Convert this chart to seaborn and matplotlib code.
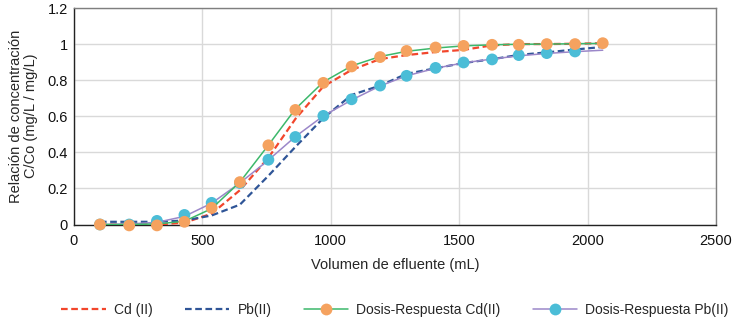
import matplotlib
matplotlib.use("Agg")
import matplotlib.pyplot as plt
from matplotlib.lines import Line2D
import pandas as pd
import seaborn as sns

# ── Data ──────────────────────────────────────────────────────────────────────
volumen = [101, 215, 323, 430, 536, 646, 757, 862, 971, 1081,
           1192, 1295, 1408, 1517, 1628, 1732, 1841, 1951, 2059]

# experimental curves (dashed)
cd_exp = [0.0, 0.0, 0.0, 0.01, 0.06, 0.19, 0.37, 0.585, 0.765, 0.857,
          0.917, 0.939, 0.956, 0.968, 0.993, 1.0, 1.0, 1.002, 1.005]
pb_exp = [0.015, 0.015, 0.015, 0.022, 0.05, 0.11, 0.27, 0.43, 0.59, 0.718,
          0.77, 0.835, 0.866, 0.895, 0.916, 0.94, 0.954, 0.97, 0.984]

# dose-response model lines
cd_fit = [0.0, 0.0, 0.003, 0.018, 0.088, 0.235, 0.44, 0.64, 0.79, 0.879,
          0.931, 0.96, 0.978, 0.99, 0.996, 0.999, 1.0, 1.002, 1.004]
pb_fit = [0.0, 0.003, 0.012, 0.045, 0.118, 0.23, 0.357, 0.487, 0.602, 0.69,
          0.768, 0.824, 0.866, 0.896, 0.917, 0.935, 0.948, 0.958, 0.966]

# dose-response markers
cd_pts = [0.0, -0.005, -0.005, 0.015, 0.092, 0.235, 0.439, 0.635, 0.785, 0.876,
          0.928, 0.962, 0.981, 0.99, 0.996, 0.996, 1.0, 1.0, 1.005]
pb_pts = [0.0, 0.0, 0.02, 0.053, 0.12, 0.23, 0.359, 0.485, 0.602, 0.694,
          0.770, 0.824, 0.868, 0.898, 0.915, 0.939, 0.95, 0.959]

df = pd.DataFrame({"v": volumen, "cd_exp": cd_exp, "pb_exp": pb_exp,
                   "cd_fit": cd_fit, "pb_fit": pb_fit, "cd_pts": cd_pts})
df_pb = pd.DataFrame({"v": volumen[:len(pb_pts)], "pb_pts": pb_pts})

RED, NAVY = "#f2462c", "#2f5597"
GREEN, ORANGE = "#3cb86b", "#f5a25f"
PURPLE, BLUE = "#9b87c9", "#4bbdd7"

sns.set_style("white")
plt.rcParams["font.family"] = ["Liberation Sans", "DejaVu Sans"]

fig = plt.figure(figsize=(7.36, 3.2), dpi=100)
ax = fig.add_axes([74 / 736, 1 - 224.5 / 320, 642 / 736, 216.5 / 320])

dash = (3.0, 1.6)
sns.lineplot(data=df, x="v", y="cd_exp", ax=ax, color=RED, lw=1.6,
             linestyle=(0, dash), zorder=3)
sns.lineplot(data=df, x="v", y="pb_exp", ax=ax, color=NAVY, lw=1.6,
             linestyle=(0, dash), zorder=3)
sns.lineplot(data=df, x="v", y="pb_fit", ax=ax, color=PURPLE, lw=1.1, zorder=4)
sns.scatterplot(data=df_pb, x="v", y="pb_pts", ax=ax, color=BLUE, s=72,
                edgecolor="none", zorder=5, clip_on=False)
sns.lineplot(data=df, x="v", y="cd_fit", ax=ax, color=GREEN, lw=1.1, zorder=6)
sns.scatterplot(data=df, x="v", y="cd_pts", ax=ax, color=ORANGE, s=72,
                edgecolor="none", zorder=7, clip_on=False)

ax.set_xlim(0, 2500)
ax.set_ylim(0, 1.2)
ax.set_xticks(range(0, 2501, 500))
ax.set_yticks([0, 0.2, 0.4, 0.6, 0.8, 1.0, 1.2])
ax.set_yticklabels(["0", "0.2", "0.4", "0.6", "0.8", "1", "1.2"])
ax.grid(True, color="#d9d9d9", lw=1.0)
ax.set_axisbelow(True)
ax.tick_params(axis="both", length=0, labelsize=10.5, colors="#111111")
ax.tick_params(axis="x", pad=7)
ax.tick_params(axis="y", pad=4.5)

for side in ["top", "right"]:
    ax.spines[side].set_color("#7f7f7f")
for side in ["left", "bottom"]:
    ax.spines[side].set_color("#222222")
for s in ax.spines.values():
    s.set_linewidth(1.0)

ax.set_xlabel("Volumen de efluente (mL)", fontsize=10.5, labelpad=7)
ax.set_ylabel("Relación de concentración\nC/Co (mg/L / mg/L)", fontsize=10.5,
              labelpad=7, linespacing=1.1)

handles = [
    Line2D([], [], color=RED, lw=1.6, linestyle=(0, dash)),
    Line2D([], [], color=NAVY, lw=1.6, linestyle=(0, dash)),
    Line2D([], [], color=GREEN, lw=1.1, marker="o", markersize=8.5,
           markerfacecolor=ORANGE, markeredgecolor="none"),
    Line2D([], [], color=PURPLE, lw=1.1, marker="o", markersize=8.5,
           markerfacecolor=BLUE, markeredgecolor="none"),
]
labels = ["Cd (II)", "Pb(II)", "Dosis-Respuesta Cd(II)", "Dosis-Respuesta Pb(II)"]
fig.legend(handles, labels, loc="center", bbox_to_anchor=(395 / 736, 1 - 310 / 320),
           ncol=4, frameon=False, fontsize=10, handlelength=3.2,
           handletextpad=0.6, columnspacing=2.3)

fig.savefig("out.png", dpi=100)
